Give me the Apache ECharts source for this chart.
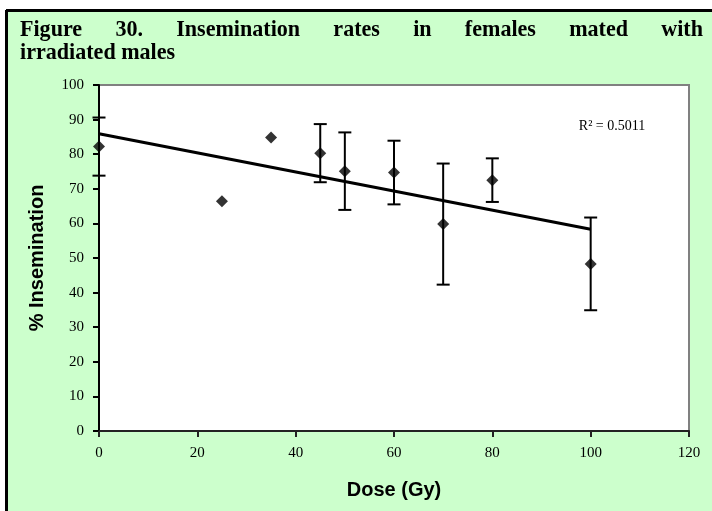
<!DOCTYPE html>
<html>
<head>
<meta charset="utf-8">
<script src="https://cdn.jsdelivr.net/npm/echarts@6/dist/echarts.min.js"></script>
<style>
html,body{margin:0;padding:0;background:#fff;}
#c{width:712px;height:511px;}
</style>
</head>
<body>
<div id="c"></div>
<script>
// ---- data ----
var titleLine1 = "Figure 30. Insemination rates in females mated with";
var titleLine2 = "irradiated males";
var xAxisName = "Dose (Gy)";
var yAxisName = "% Insemination";
var doses = [0, 25, 35, 45, 50, 60, 70, 80, 100];
var insemination = [82.2, 66.4, 84.8, 80.3, 75.1, 74.7, 59.8, 72.5, 48.3];
var errors = [8.4, 0, 0, 8.4, 11.2, 9.2, 17.5, 6.3, 13.4];
var trendX = [0, 100];
var trendY = [85.9, 58.3];
var r2Label = "R\u00B2 = 0.5011";

var scatterData = doses.map(function (d, i) { return [d, insemination[i]]; });
var errData = doses.map(function (d, i) { return [d, insemination[i], errors[i]]; });
var trendData = trendX.map(function (d, i) { return [d, trendY[i]]; });

// justified title line 1 (condensed bold serif)
var titleFont = "bold 24px 'Liberation Serif'";
var sx = 0.92;
var cv = document.createElement('canvas').getContext('2d');
cv.font = titleFont;
var words = titleLine1.split(' ');
var leftX = 20, rightX = 703;
var widths = words.map(function (w) { return cv.measureText(w).width * sx; });
var totalW = widths.reduce(function (a, b) { return a + b; }, 0);
var gap = (rightX - leftX - totalW) / (words.length - 1);
var graphics = [
  { type: 'rect', left: 6, top: 10, shape: { width: 706, height: 501 }, style: { fill: '#CCFFCC' }, z: -10, silent: true },
  { type: 'line', shape: { x1: 6, y1: 10.5, x2: 712, y2: 10.5 }, style: { stroke: '#000', lineWidth: 3 }, z: -9 },
  { type: 'line', shape: { x1: 6.5, y1: 10, x2: 6.5, y2: 511 }, style: { stroke: '#000', lineWidth: 3 }, z: -9 }
];
var cx = leftX;
words.forEach(function (w, i) {
  graphics.push({ type: 'text', x: cx, y: 30, scaleX: sx, style: { text: w, font: titleFont, fill: '#000', verticalAlign: 'middle', align: 'left' } });
  cx += widths[i] + gap;
});
graphics.push({ type: 'text', x: leftX, y: 53, scaleX: sx, style: { text: titleLine2, font: titleFont, fill: '#000', verticalAlign: 'middle', align: 'left' } });
graphics.push({ type: 'text', x: 612, y: 126, style: { text: r2Label, font: "14px 'Liberation Serif'", fill: '#000', align: 'center', verticalAlign: 'middle' } });

var chart = echarts.init(document.getElementById('c'));
var labelFont = { fontFamily: 'Liberation Serif', fontSize: 15, color: '#000' };
chart.setOption({
  animation: false,
  backgroundColor: '#fff',
  graphic: graphics,
  grid: { left: 99, right: 23, top: 85, bottom: 80, show: true, backgroundColor: '#fff', borderColor: '#808080', borderWidth: 2 },
  xAxis: {
    type: 'value', min: 0, max: 120, interval: 20,
    name: xAxisName, nameLocation: 'middle', nameGap: 49,
    nameTextStyle: { fontFamily: 'Liberation Sans', fontWeight: 'bold', fontSize: 20, color: '#000' },
    axisLine: { lineStyle: { color: '#222', width: 2 } },
    axisTick: { show: true, length: 6, lineStyle: { color: '#222', width: 2 } },
    axisLabel: Object.assign({ margin: 15 }, labelFont),
    splitLine: { show: false }
  },
  yAxis: {
    type: 'value', min: 0, max: 100, interval: 10,
    name: yAxisName, nameLocation: 'middle', nameGap: 52, nameRotate: 90,
    nameTextStyle: { fontFamily: 'Liberation Sans', fontWeight: 'bold', fontSize: 20, color: '#000' },
    axisLine: { lineStyle: { color: '#000', width: 2 } },
    axisTick: { show: true, length: 6, lineStyle: { color: '#000', width: 2 } },
    axisLabel: Object.assign({ margin: 15 }, labelFont),
    splitLine: { show: false }
  },
  series: [
    {
      type: 'custom', data: errData, z: 3,
      renderItem: function (params, api) {
        var x = api.value(0), y = api.value(1), e = api.value(2);
        if (!e) return { type: 'group', children: [] };
        var top = api.coord([x, y + e]);
        var bot = api.coord([x, y - e]);
        var hw = 6.5;
        var st = { stroke: '#000', lineWidth: 2 };
        return {
          type: 'group', children: [
            { type: 'line', shape: { x1: top[0], y1: top[1], x2: bot[0], y2: bot[1] }, style: st },
            { type: 'line', shape: { x1: top[0] - hw, y1: top[1], x2: top[0] + hw, y2: top[1] }, style: st },
            { type: 'line', shape: { x1: bot[0] - hw, y1: bot[1], x2: bot[0] + hw, y2: bot[1] }, style: st }
          ]
        };
      }
    },
    {
      type: 'line', data: trendData, symbol: 'none', z: 4,
      lineStyle: { color: '#000', width: 3 }
    },
    {
      type: 'scatter', data: scatterData, symbol: 'diamond', symbolSize: 12, z: 5,
      itemStyle: { color: '#000' }
    }
  ]
});
</script>
</body>
</html>
